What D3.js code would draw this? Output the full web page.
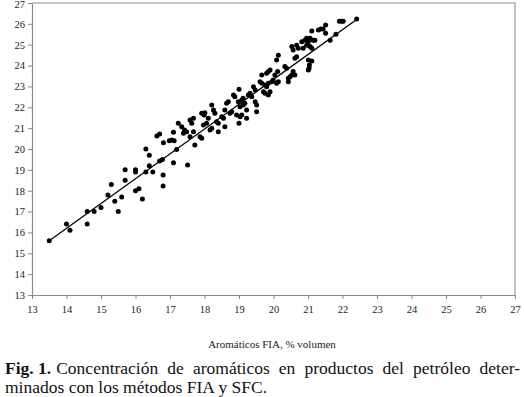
<!DOCTYPE html>
<html>
<head>
<meta charset="utf-8">
<script src="https://cdn.jsdelivr.net/npm/d3@7"></script>
<style>
  html, body { margin: 0; padding: 0; background: #fff; }
  svg { display: block; }
</style>
</head>
<body>
<svg id="chart" width="524" height="397"></svg>
<script>
// ---- data ----
const xTicks = [13,14,15,16,17,18,19,20,21,22,23,24,25,26,27];
const yTicks = [13,14,15,16,17,18,19,20,21,22,23,24,25,26,27];
const xTitle = "Aromáticos FIA, % volumen";
const captionBold = "Fig. 1.";
const captionLine1 = "Concentración de aromáticos en productos del petróleo deter-";
const captionLine2 = "minados con los métodos FIA y SFC.";

// FIA (x) values
const fia = [
  13.5,14.0,14.1,14.6,14.6,14.8,15.0,15.2,15.3,15.4,15.5,15.6,15.7,15.7,16.0,16.0,16.0,16.1,16.2,16.3,
  16.3,16.4,16.4,16.5,16.62,16.7,16.7,16.78,16.8,16.8,16.81,16.98,17.05,17.1,17.1,17.19,17.12,
  17.51,17.24,17.34,17.42,17.48,17.39,17.58,17.68,17.63,17.58,17.68,17.72,17.87,17.92,17.92,17.99,18.01,
  17.97,18.06,18.11,18.16,18.21,18.21,18.26,18.30,18.35,18.40,18.40,18.5,18.55,18.59,18.64,18.69,18.59,
  18.74,18.79,18.84,18.88,19.0,
  18.93,19.03,19.08,19.0,18.98,19.08,19.12,19.03,19.12,19.17,19.22,19.22,19.27,19.32,19.37,19.42,19.47,
  19.47,19.51,19.51,19.61,19.66,19.66,19.71,19.75,19.75,19.8,19.85,19.8,19.85,19.9,19.85,19.9,19.95,19.99,
  20.04,20.09,20.14,20.12,20.09,20.14,20.33,20.38,20.43,20.48,20.53,20.43,
  20.53,20.57,20.62,20.67,20.67,20.72,20.82,20.91,20.86,20.96,21.01,21.03,21.06,21.15,
  22.41,21.91,21.98,22.02,21.81,21.64,21.51,21.44,21.37,21.3,21.51,21.2,21.11,20.96,21.01,21.06,21.11,
  21.11,21.04,21.01,20.57,20.62
];
// SFC (y) values
const sfc = [
  15.6,16.4,16.1,17.0,16.4,17.0,17.2,17.8,18.3,17.5,17.0,17.7,19.0,18.5,19.0,18.9,18.0,18.1,17.6,20.0,
  18.9,19.7,19.2,18.9,20.62,20.72,19.42,19.5,18.75,18.23,20.3,20.4,20.43,20.8,19.34,19.98,20.40,
  19.23,21.23,21.07,20.91,20.83,20.75,21.39,21.47,21.23,20.59,20.83,20.19,20.59,20.51,21.71,21.63,21.74,
  21.15,21.23,21.47,20.91,20.99,22.11,21.87,21.71,21.31,21.23,20.83,21.55,21.47,21.87,22.19,22.27,21.07,
  21.71,21.79,22.59,22.51,21.23,
  21.63,21.55,21.63,22.87,22.27,22.35,22.43,22.03,22.11,22.19,21.87,21.47,22.59,22.67,22.51,22.99,22.83,
  22.27,22.11,21.79,23.23,23.15,23.55,22.75,22.67,23.07,22.99,23.15,23.63,23.71,23.79,22.59,22.75,23.23,23.31,
  23.55,23.15,23.23,23.71,24.27,24.5,23.95,23.87,23.39,23.47,23.55,23.23,
  24.91,24.75,24.35,24.42,24.98,24.83,25.14,25.22,24.83,24.98,24.27,23.87,25.31,25.22,
  26.23,26.13,26.13,26.13,25.5,25.22,25.94,25.75,25.75,25.7,25.55,25.22,25.66,25.31,25.14,24.91,24.83,
  24.22,24.03,23.79,23.71,23.55
];
// least-squares line as drawn
const fitX = [13.5, 22.4];
const fitSlope = 1.191;
const fitIntercept = -0.48;

// ---- drawing ----
const svg = d3.select("#chart");
const serif = "'Liberation Serif', 'Times New Roman', serif";

const x = d3.scaleLinear().domain([13, 27]).range([32, 515]);
const y = d3.scaleLinear().domain([13, 27]).range([295, 3]);

svg.append("rect").attr("width", 524).attr("height", 397).attr("fill", "#fff");

// plot border (top & right)
svg.append("path")
  .attr("d", `M${x(13)},${y(27)}H${x(27)}V${y(13)}`)
  .attr("fill", "none").attr("stroke", "#b4b4b4").attr("stroke-width", 1.6);

const styleAxis = g => {
  g.select(".domain").attr("stroke", "#8a8a8a").attr("stroke-width", 1.2);
  g.selectAll(".tick line").attr("stroke", "#8a8a8a").attr("stroke-width", 1);
  g.selectAll(".tick text").attr("fill", "#222").attr("font-family", serif).attr("font-size", 10.5);
};

const yAxisG = svg.append("g")
  .attr("transform", `translate(${x(13)},0)`)
  .call(d3.axisLeft(y).tickValues(yTicks).tickFormat(d3.format("d")).tickSize(4).tickSizeOuter(0).tickPadding(3))
  .call(styleAxis);
// keep the top label inside the frame
yAxisG.selectAll(".tick").filter(d => d === 27).select("text").attr("dy", "0.32em").attr("y", 1.5);

svg.append("g")
  .attr("transform", `translate(0,${y(13)})`)
  .call(d3.axisBottom(x).tickValues(xTicks).tickFormat(d3.format("d")).tickSize(4).tickSizeOuter(0).tickPadding(7))
  .call(styleAxis);

// regression line
const line = d3.line().x(d => x(d)).y(d => y(fitSlope * d + fitIntercept));
svg.append("path").datum(fitX).attr("d", line)
  .attr("fill", "none").attr("stroke", "#000").attr("stroke-width", 1.3);

// points
svg.append("g").selectAll("circle")
  .data(d3.zip(fia, sfc))
  .join("circle")
  .attr("cx", d => x(d[0])).attr("cy", d => y(d[1]))
  .attr("r", 2.5).attr("fill", "#000");

// x axis title
svg.append("text")
  .attr("x", 272).attr("y", 348)
  .attr("text-anchor", "middle")
  .attr("font-family", serif).attr("font-size", 11)
  .attr("fill", "#222")
  .text(xTitle);

// caption (first line justified to full width)
const capSize = 17.5;
const capLeft = 5, capRight = 520;
const capY1 = 373.5, capY2 = 393;
const capBold = svg.append("text")
  .attr("x", capLeft).attr("y", capY1)
  .attr("font-family", serif).attr("font-size", capSize).attr("font-weight", "bold")
  .attr("fill", "#111")
  .text(captionBold);
const boldW = capBold.node().getComputedTextLength();
const restX = capLeft + boldW + 5;
const cap1 = svg.append("text")
  .attr("x", restX).attr("y", capY1)
  .attr("font-family", serif).attr("font-size", capSize).attr("fill", "#111")
  .text(captionLine1);
const natural = cap1.node().getComputedTextLength();
const spaces = captionLine1.split(" ").length - 1;
const target = capRight - restX;
if (natural < target) {
  cap1.attr("word-spacing", (target - natural) / spaces);
} else {
  cap1.attr("textLength", target).attr("lengthAdjust", "spacingAndGlyphs");
}

svg.append("text")
  .attr("x", capLeft).attr("y", capY2)
  .attr("font-family", serif).attr("font-size", capSize).attr("fill", "#111")
  .text(captionLine2);
</script>
</body>
</html>
